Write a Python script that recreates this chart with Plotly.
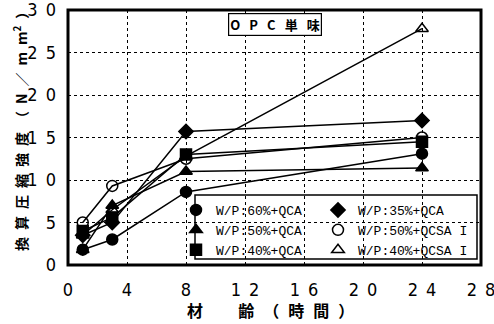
import plotly.graph_objects as go

ages = [1, 3, 8, 24]

labels = ["W/P:60%+QCA", "W/P:35%+QCA", "W/P:50%+QCA",
          "W/P:50%+QCSA I", "W/P:40%+QCA", "W/P:40%+QCSA I"]
wp60_qca = [1.8, 3.0, 8.6, 13.1]
wp35_qca = [3.5, 5.0, 15.7, 17.0]
wp50_qca = [1.8, 7.0, 11.0, 11.4]
wp50_qcsa = [5.0, 9.3, 12.5, 15.0]
wp40_qca = [4.0, 5.6, 13.0, 14.5]
wp40_qcsa = [3.5, 6.5, 12.8, 27.8]

series = [wp60_qca, wp35_qca, wp50_qca, wp50_qcsa, wp40_qca, wp40_qcsa]
symbols = ["circle", "diamond", "triangle-up", "circle-open", "square", "triangle-up-open"]
legend_ids = ["legend", "legend2", "legend", "legend2", "legend", "legend2"]

x_ticks = [0, 4, 8, 12, 16, 20, 24, 28]
x_ticktext = ["0", "4", "8", "1\u20022", "1\u20026", "2\u20020", "2\u20024", "2\u20028"]
y_ticks = [0, 5, 10, 15, 20, 25, 30]
y_ticktext = ["0", "5", "1\u20020", "1\u20025", "2\u20020", "2\u20025", "3\u20020"]

fig = go.Figure()
for lab, vals, sym, lg in zip(labels, series, symbols, legend_ids):
    fig.add_trace(go.Scatter(
        x=ages, y=vals, mode="lines+markers", showlegend=False,
        line=dict(color="black", width=1.5),
        marker=dict(symbol=sym, size=11, color="black",
                    line=dict(color="black", width=1.5)),
    ))
    fig.add_trace(go.Scatter(
        x=[None], y=[None], mode="markers", name=lab, legend=lg,
        marker=dict(symbol=sym, size=11, color="black",
                    line=dict(color="black", width=1.5)),
    ))

# plot area sits at x 68..481, y 10..265 in the window
PL, PB, PW, PH = 68, 265, 413, 255
def px(xp):
    return (xp - PL) / PW
def py(yp):
    return (PB - yp) / PH

tickfont = dict(family="Liberation Sans Narrow, DejaVu Sans Condensed", size=18, color="black")
legfont = dict(family="Liberation Mono", size=13, color="black")
fig.update_layout(
    width=494, height=324,
    margin=dict(l=68, r=13, t=10, b=59, autoexpand=False),
    paper_bgcolor="white", plot_bgcolor="white",
    xaxis=dict(range=[0, 28], tickvals=x_ticks, ticktext=x_ticktext,
               showgrid=True, gridcolor="black", griddash="dot", gridwidth=1,
               zeroline=False, showline=False, ticks="", tickfont=tickfont,
               ticklabelstandoff=12, automargin=False, ticklabeloverflow="allow"),
    yaxis=dict(range=[0, 30], tickvals=y_ticks, ticktext=y_ticktext,
               showgrid=True, gridcolor="black", griddash="dot", gridwidth=1,
               zeroline=False, showline=False, ticks="", tickfont=tickfont,
               ticklabelstandoff=11, automargin=False, ticklabeloverflow="allow"),
    legend=dict(x=px(176), y=py(195), xanchor="left", yanchor="top",
                bgcolor="rgba(0,0,0,0)", borderwidth=0, font=legfont,
                itemwidth=30, tracegroupgap=0),
    legend2=dict(x=px(318), y=py(195), xanchor="left", yanchor="top",
                 bgcolor="rgba(0,0,0,0)", borderwidth=0, font=legfont,
                 itemwidth=30, tracegroupgap=0),
    showlegend=True,
)

# legend box
fig.add_shape(type="rect", xref="paper", yref="paper",
              x0=px(195), x1=px(477), y0=py(259), y1=py(195),
              line=dict(color="black", width=1.5), fillcolor="white", layer="between")
# frame
fig.add_shape(type="rect", xref="paper", yref="paper", x0=0, x1=1, y0=0, y1=1,
              line=dict(color="black", width=3), layer="above")

# title box
fig.add_annotation(xref="paper", yref="paper", x=px(275), y=py(24),
                   xanchor="center", yanchor="middle",
                   text="<b>O\u2002\u2009P\u2002\u2009C\u2002\u2009単\u2002\u2009味</b>",
                   showarrow=False,
                   font=dict(family="Noto Sans CJK JP", size=13, color="black"),
                   bgcolor="white", bordercolor="black", borderwidth=1.2, borderpad=1)

# axis titles
fig.add_annotation(xref="paper", yref="paper", x=px(270), y=py(310),
                   xanchor="center", yanchor="middle",
                   text="<b>材\u3000\u3000\u2009齢\u2002\u200a（\u2002\u200a時\u2002\u200a間\u2002\u200a）</b>",
                   showarrow=False,
                   font=dict(family="Noto Sans CJK JP", size=16, color="black"))
fig.add_annotation(xref="paper", yref="paper", x=px(20), y=py(128),
                   xanchor="center", yanchor="middle",
                   text="<b>換\u2002算\u2002圧\u2002縮\u2002強\u2002度\u2002（\u2002N\u2002／\u2002m\u2002m<sup>2</sup>\u2002）</b>",
                   showarrow=False, textangle=-90,
                   font=dict(family="Noto Sans CJK JP", size=14, color="black"))

fig.write_html("out.html", config={"displayModeBar": False},
               post_script="document.body.style.margin='0';")
